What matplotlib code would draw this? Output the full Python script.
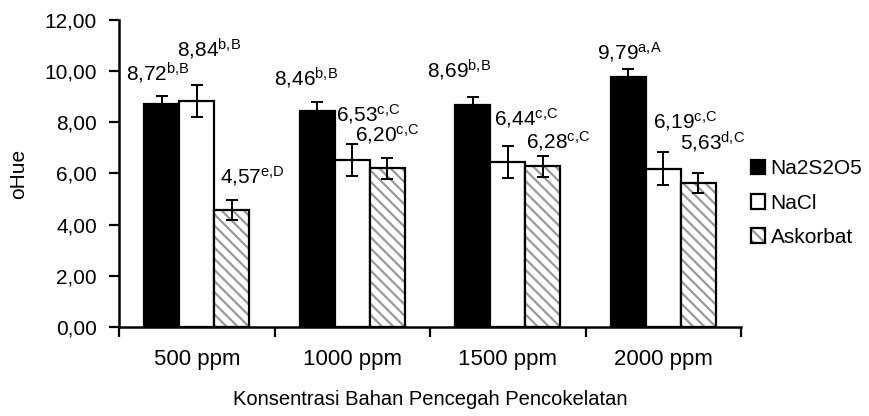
import matplotlib
matplotlib.use("Agg")
import matplotlib.pyplot as plt
from matplotlib.patches import Patch
from matplotlib.legend_handler import HandlerTuple
from matplotlib.ticker import FuncFormatter, FixedLocator
import numpy as np

plt.rcParams['font.family'] = ['Liberation Sans', 'DejaVu Sans']
plt.rcParams['mathtext.fontset'] = 'custom'
plt.rcParams['mathtext.rm'] = 'Liberation Sans'
plt.rcParams['mathtext.it'] = 'Liberation Sans'
plt.rcParams['hatch.linewidth'] = 1.6

# Datos
kategori = ['500 ppm', '1000 ppm', '1500 ppm', '2000 ppm']
na2s2o5 = [8.72, 8.46, 8.69, 9.79]
nacl = [8.84, 6.53, 6.44, 6.19]
askorbat = [4.57, 6.20, 6.28, 5.63]
err_na2s2o5 = [0.30, 0.33, 0.31, 0.30]
err_nacl = [0.63, 0.62, 0.62, 0.65]
err_askorbat = [0.39, 0.40, 0.42, 0.40]
notasi_na2s2o5 = ['b,B', 'b,B', 'b,B', 'a,A']
notasi_nacl = ['b,B', 'c,C', 'c,C', 'c,C']
notasi_askorbat = ['e,D', 'c,C', 'c,C', 'd,C']

# posisi label (tepi kiri, baseline)
lab_x = [[-0.455, 0.497, 1.481, 2.574],
         [-0.127, 0.896, 1.912, 2.934],
         [0.150, 1.02, 2.117, 3.108]]
lab_y = [[9.62, 9.42, 9.73, 10.48],
         [10.55, 8.05, 7.90, 7.78],
         [5.63, 7.25, 7.00, 6.90]]

fig = plt.figure(figsize=(8.69, 4.16), dpi=100)
ax = fig.add_axes([0.137, 0.214, 0.716, 0.738])

x = np.arange(len(kategori))
w = 0.225
lw = 1.6

ax.bar(x - w, na2s2o5, w, color='black', edgecolor='black', linewidth=lw, zorder=2)
ax.bar(x, nacl, w, color='white', edgecolor='black', linewidth=lw, zorder=2)
ax.bar(x + w, askorbat, w, color='white', edgecolor='#999999', linewidth=0, hatch='\\\\\\', zorder=2)
ax.bar(x + w, askorbat, w, fill=False, edgecolor='black', linewidth=lw, zorder=3)

for xs, vals, errs in [(x - w, na2s2o5, err_na2s2o5), (x, nacl, err_nacl), (x + w, askorbat, err_askorbat)]:
    ax.errorbar(xs, vals, yerr=errs, fmt='none', ecolor='black', elinewidth=1.4,
                capsize=4.5, capthick=1.4, zorder=4)

semua = [(na2s2o5, notasi_na2s2o5), (nacl, notasi_nacl), (askorbat, notasi_askorbat)]
for s, (vals, notasi) in enumerate(semua):
    for i in range(len(vals)):
        sup = notasi[i].replace(',', '{,}')
        teks = f"{vals[i]:.2f}".replace('.', ',') + r"$^{\mathrm{" + sup + "}}$"
        ax.text(lab_x[s][i], lab_y[s][i], teks, ha='left', va='baseline', fontsize=15, zorder=5)

ax.set_xlim(-0.5, 3.5)
ax.set_ylim(0, 12)
ax.set_yticks(np.arange(0, 13, 2))
ax.yaxis.set_major_formatter(FuncFormatter(lambda v, p: f"{v:.2f}".replace('.', ',')))
ax.set_xticks(x)
ax.set_xticklabels(kategori)
ax.xaxis.set_minor_locator(FixedLocator(np.arange(-0.5, 4, 1)))
ax.tick_params(axis='x', which='major', length=0, labelsize=16, pad=16)
ax.tick_params(axis='x', which='minor', length=7, width=1.6, direction='out')
ax.tick_params(axis='y', length=7, width=1.6, labelsize=15, pad=9)

for sp in ['top', 'right']:
    ax.spines[sp].set_visible(False)
for sp in ['left', 'bottom']:
    ax.spines[sp].set_linewidth(1.8)

ax.set_ylabel('oHue', fontsize=15, labelpad=12)
ax.set_xlabel('Konsentrasi Bahan Pencegah Pencokelatan', fontsize=14.5, labelpad=14)

h1 = Patch(facecolor='black', edgecolor='black', linewidth=lw)
h2 = Patch(facecolor='white', edgecolor='black', linewidth=lw)
h3 = (Patch(facecolor='white', edgecolor='#999999', hatch='\\\\\\', linewidth=0),
      Patch(fill=False, edgecolor='black', linewidth=lw))
fig.legend([h1, h2, h3], ['Na2S2O5', 'NaCl', 'Askorbat'],
           handler_map={tuple: HandlerTuple(ndivide=1, pad=0)},
           loc='center left', bbox_to_anchor=(0.864, 0.512), frameon=False,
           fontsize=15, handlelength=0.7, handleheight=0.7, handletextpad=0.25,
           labelspacing=0.73, borderaxespad=0, borderpad=0)

fig.savefig('out.png', dpi=100)
